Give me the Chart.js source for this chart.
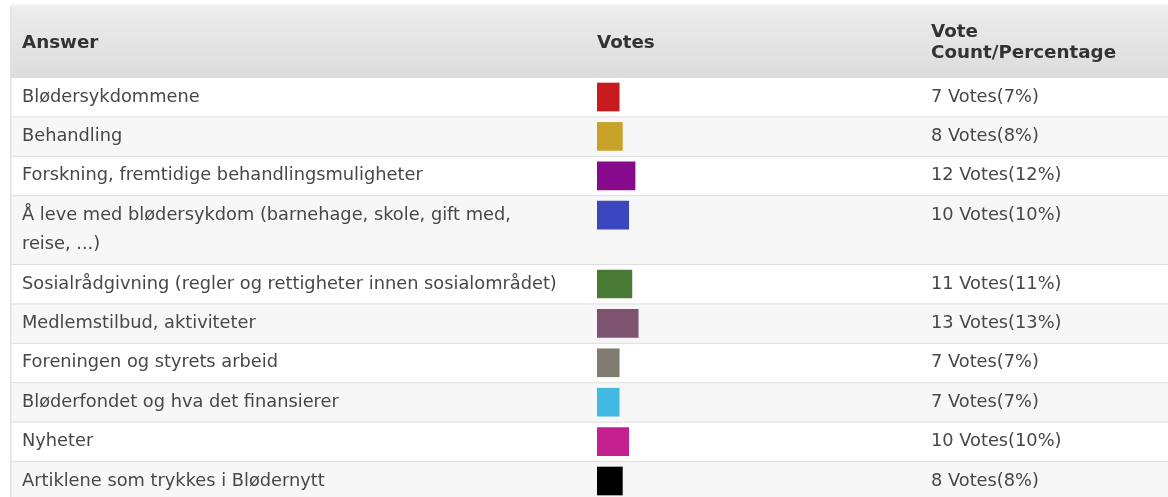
<!DOCTYPE html>
<html>
<head>
<meta charset="utf-8">
<script src="https://cdn.jsdelivr.net/npm/chart.js@4.4.1/dist/chart.umd.min.js"></script>
<style>
  html, body { margin: 0; padding: 0; background: #fff; }
  #wrap { width: 1168px; height: 497px; position: relative; }
</style>
</head>
<body>
<div id="wrap"><canvas id="myChart"></canvas></div>
<script>
// poll answers (row 4 wraps onto two lines)
var answers = [
    ['Blødersykdommene'],
    ['Behandling'],
    ['Forskning, fremtidige behandlingsmuligheter'],
    ['Å leve med blødersykdom (barnehage, skole, gift med,', 'reise, ...)'],
    ['Sosialrådgivning (regler og rettigheter innen sosialområdet)'],
    ['Medlemstilbud, aktiviteter'],
    ['Foreningen og styrets arbeid'],
    ['Bløderfondet og hva det finansierer'],
    ['Nyheter'],
    ['Artiklene som trykkes i Blødernytt']
];
var votes = [7, 8, 12, 10, 11, 13, 7, 7, 10, 8];
var percents = [7, 8, 12, 10, 11, 13, 7, 7, 10, 8];
var barColors = ['#c81b1f', '#c9a22a', '#880a8c', '#3b47bf', '#4a7b35',
                 '#7e5370', '#807c70', '#42b9e3', '#c5208f', '#000000'];
var headers = [['Answer'], ['Votes'], ['Vote', 'Count/Percentage']];

// layout of the table
var headTop = 6, headBottom = 78;
var rowPad = 10, lineH = 29.4;
var colX = [22, 597, 931];
var font = '17.8px "DejaVu Sans", Verdana, sans-serif';
var boldFont = 'bold 18.3px "DejaVu Sans", Verdana, sans-serif';

// row tops in pixels below the header, built from the line counts
var rowTops = [];
var acc = 0;
answers.forEach(function (a) {
    rowTops.push(acc);
    acc += rowPad + lineH * a.length;
});
var rowEnd = acc;

var tablePlugin = {
    id: 'pollTable',
    beforeDatasetsDraw: function (chart) {
        var c = chart.ctx;
        var W = chart.width;
        var ys = chart.scales.y;
        c.save();

        // header
        var g = c.createLinearGradient(0, headTop, 0, headBottom);
        g.addColorStop(0, '#ededed');
        g.addColorStop(1, '#dcdcdc');
        c.fillStyle = g;
        c.fillRect(11, headTop, W - 11, headBottom - headTop);
        c.fillStyle = '#f4f4f4';
        c.fillRect(11, headTop - 2, W - 11, 2);

        // rows
        for (var i = 0; i < answers.length; i++) {
            var top = ys.getPixelForValue(rowTops[i]);
            var bot = ys.getPixelForValue(i + 1 < rowTops.length ? rowTops[i + 1] : rowEnd);
            c.fillStyle = i % 2 ? '#f7f7f7' : '#ffffff';
            c.fillRect(11, top, W - 11, bot - top);
            c.fillStyle = '#dedede';
            c.fillRect(11, bot - 1, W - 11, 2);
        }
        c.fillStyle = '#e2e2e2';
        c.fillRect(10, headTop, 1.5, chart.height - headTop);

        // header text
        c.textBaseline = 'middle';
        c.font = boldFont;
        c.fillStyle = '#333333';
        headers.forEach(function (h, k) {
            var y0 = (headTop + headBottom) / 2 + 1 - (h.length - 1) * 10.5;
            h.forEach(function (t, j) { c.fillText(t, colX[k], y0 + j * 21); });
        });

        // body text
        c.font = font;
        c.fillStyle = '#474747';
        for (var r = 0; r < answers.length; r++) {
            var t0 = ys.getPixelForValue(rowTops[r]);
            answers[r].forEach(function (line, j) {
                c.fillText(line, colX[0], t0 + 19 + j * lineH);
            });
            c.fillText(votes[r] + ' Votes(' + percents[r] + '%)', colX[2], t0 + 19);
        }
        c.restore();
    }
};

var ctx = document.getElementById('myChart').getContext('2d');
var chart = new Chart(ctx, {
    type: 'bar',
    data: {
        datasets: [{
            data: votes.map(function (v, i) { return { x: v, y: rowTops[i] + 19 }; }),
            backgroundColor: barColors,
            borderWidth: 0,
            barThickness: 28
        }]
    },
    options: {
        indexAxis: 'y',
        responsive: true,
        maintainAspectRatio: false,
        animation: false,
        layout: { padding: { top: headBottom, left: colX[1], right: 0, bottom: 0 } },
        scales: {
            x: { type: 'linear', min: 0, max: 180, display: false },
            y: { type: 'linear', min: 0, max: 497 - headBottom, reverse: true,
                 offset: false, display: false }
        },
        plugins: {
            legend: { display: false },
            tooltip: { enabled: false }
        }
    },
    plugins: [tablePlugin]
});
</script>
</body>
</html>
